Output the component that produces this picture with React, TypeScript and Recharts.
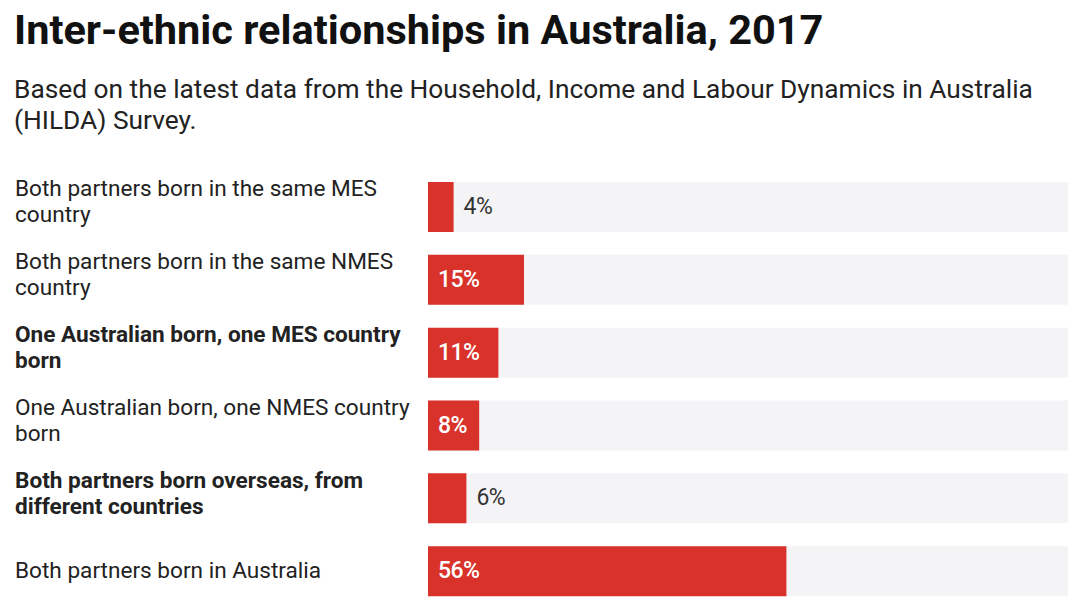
import { BarChart, Bar, XAxis, YAxis, LabelList } from "recharts";

const categories = [
  "Both partners born in the same MES country",
  "Both partners born in the same NMES country",
  "One Australian born, one MES country born",
  "One Australian born, one NMES country born",
  "Both partners born overseas, from different countries",
  "Both partners born in Australia",
];
const labelLines = [
  ["Both partners born in the same MES", "country"],
  ["Both partners born in the same NMES", "country"],
  ["One Australian born, one MES country", "born"],
  ["One Australian born, one NMES country", "born"],
  ["Both partners born overseas, from", "different countries"],
  ["Both partners born in Australia"],
];
const boldRows = [false, false, true, false, true, false];
const values = [4, 15, 11, 8, 6, 56];

const data = categories.map((c, i) => ({ category: c, value: values[i] }));

const FONT = "Roboto, 'Noto Sans', sans-serif";
const RED = "#d8322a";

function CategoryTick(props: any) {
  const { y, payload } = props;
  const i = categories.indexOf(payload.value);
  const lines = labelLines[i] || [payload.value];
  const lh = 26;
  const first = y + 6 - (lines.length - 1) * 17;
  return (
    <text
      x={15}
      y={first}
      fill="#222"
      fontFamily={FONT}
      fontSize={22.6}
      fontWeight={boldRows[i] ? 700 : 400}
      textAnchor="start"
    >
      {lines.map((l, k) => (
        <tspan key={k} x={15} y={first + k * lh}>
          {l}
        </tspan>
      ))}
    </text>
  );
}

function ValueLabel(props: any) {
  const { x, y, width, height, value } = props;
  const inside = width > 45;
  return (
    <text
      x={inside ? x + 10 : x + width + 10}
      y={y + height / 2 + 7}
      fill={inside ? "#fff" : "#333"}
      fontFamily={FONT}
      fontSize={23}
      fontWeight={inside ? 500 : 400}
      letterSpacing={-0.6}
    >
      {value}%
    </text>
  );
}

export default function App() {
  return (
    <div
      style={{
        position: "absolute",
        left: 0,
        top: 0,
        width: 1080,
        height: 607,
        overflow: "hidden",
        background: "#fff",
        fontFamily: FONT,
      }}
    >
      <div
        style={{
          position: "absolute",
          left: 14,
          top: 6,
          fontSize: 41.5,
          lineHeight: "48px",
          fontWeight: 700,
          color: "#111",
          whiteSpace: "nowrap",
        }}
      >
        Inter-ethnic relationships in Australia, 2017
      </div>
      <div
        style={{
          position: "absolute",
          left: 14,
          top: 74,
          width: 1060,
          fontSize: 26.3,
          lineHeight: "31px",
          color: "#222",
        }}
      >
        Based on the latest data from the Household, Income and Labour Dynamics in Australia (HILDA) Survey.
      </div>
      <div style={{ position: "absolute", left: 0, top: 0 }}>
        <BarChart
          width={1080}
          height={608}
          data={data}
          layout="vertical"
          margin={{ top: 171, right: 12, bottom: 0, left: 0 }}
          barSize={50}
        >
          <XAxis type="number" domain={[0, 100]} hide />
          <YAxis
            type="category"
            dataKey="category"
            width={428}
            axisLine={false}
            tickLine={false}
            tick={<CategoryTick />}
            interval={0}
          />
          <Bar
            dataKey="value"
            fill={RED}
            background={{ fill: "#f4f4f6" }}
            isAnimationActive={false}
          >
            <LabelList dataKey="value" content={<ValueLabel />} />
          </Bar>
        </BarChart>
      </div>
    </div>
  );
}
